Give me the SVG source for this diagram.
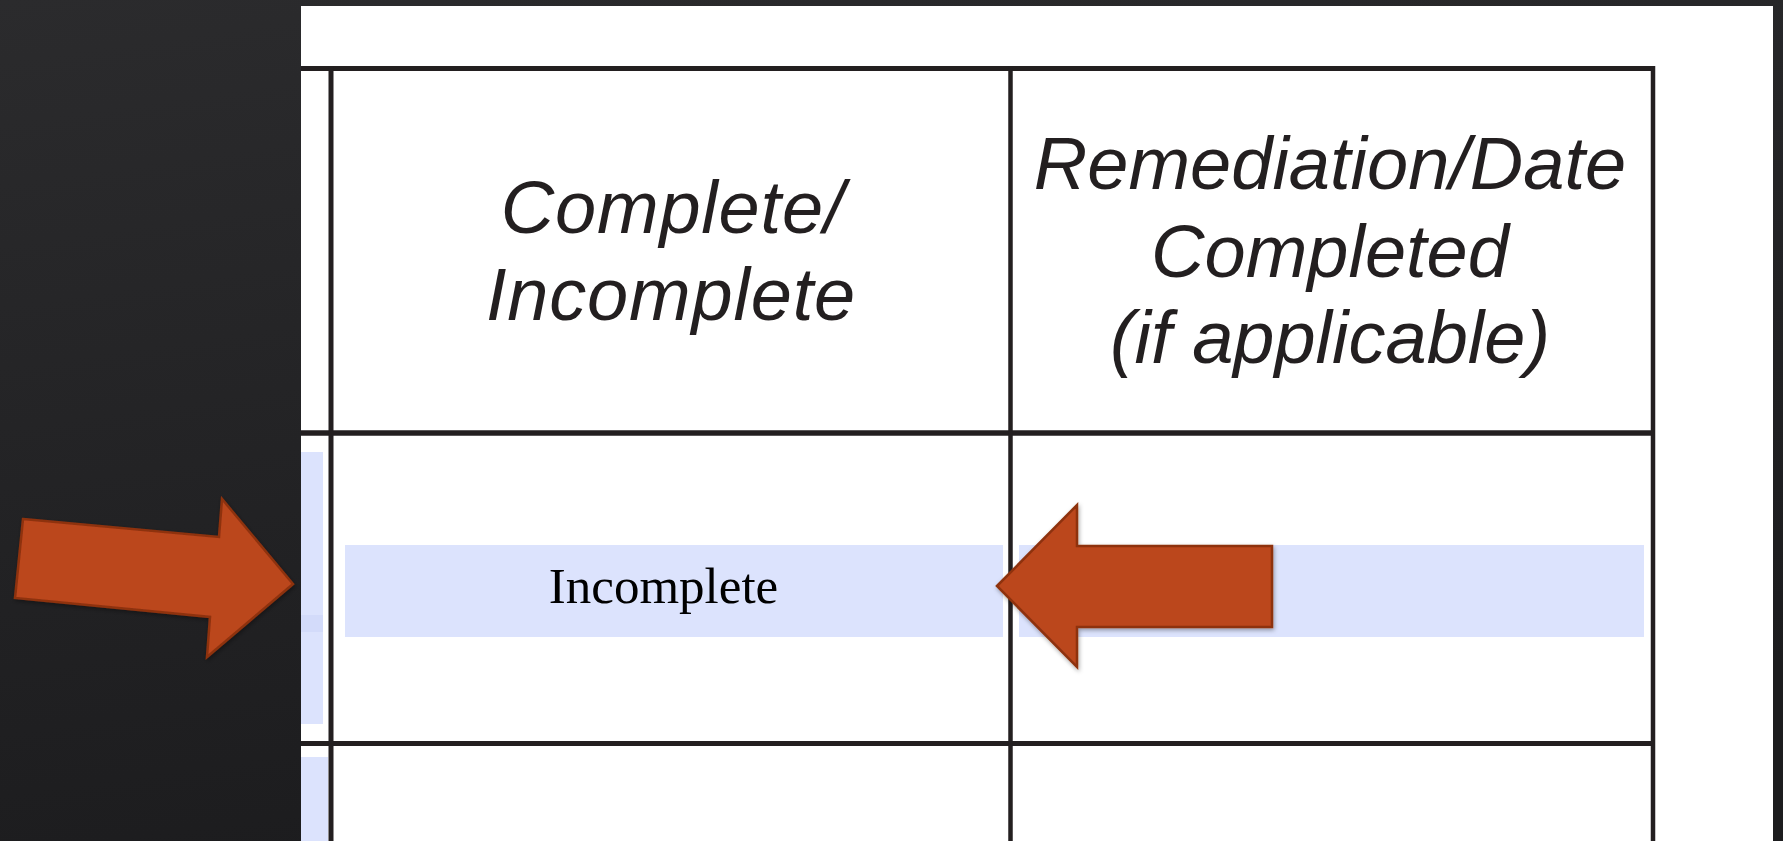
<svg xmlns="http://www.w3.org/2000/svg" width="1783" height="841" viewBox="0 0 1783 841">
  <defs>
    <linearGradient id="bg" x1="0" y1="0" x2="0.3" y2="1">
      <stop offset="0" stop-color="#2b2b2d"/>
      <stop offset="1" stop-color="#1c1c1e"/>
    </linearGradient>
    <filter id="shadow" x="-10%" y="-10%" width="130%" height="130%">
      <feDropShadow dx="1" dy="2" stdDeviation="2" flood-color="#000" flood-opacity="0.35"/>
    </filter>
  </defs>
  <style>
    .rule { stroke: #231f20; fill: none; }
    .hl { fill: #dce3fd; }
    .hdr { font-family: "Liberation Sans", Arial, sans-serif; font-style: italic; font-size: 74px; fill: #231f20; text-anchor: middle; }
    .wide { letter-spacing: 0.8px; }
    .cell { font-family: "Liberation Serif", "Times New Roman", serif; font-size: 51px; fill: #000; text-anchor: middle; }
    .arrow { fill: #bb461c; stroke: #8e3210; stroke-width: 2.5; stroke-linejoin: miter; }
  </style>

  <rect id="background" x="0" y="0" width="1783" height="841" fill="url(#bg)"/>

  <g id="panel">
    <rect x="301" y="6" width="1472" height="835" fill="#ffffff"/>
  </g>

  <g id="highlights">
    <rect class="hl" x="301" y="452" width="22" height="272"/>
    <rect x="301" y="615" width="22" height="17" fill="#d3dbfa"/>
    <rect class="hl" x="301" y="757" width="27" height="84"/>
    <rect class="hl" x="345" y="545" width="658" height="92"/>
    <rect class="hl" x="1019" y="545" width="625" height="92"/>
  </g>

  <g id="table">
    <line class="rule" x1="301" y1="68.5" x2="1655" y2="68.5" stroke-width="5"/>
    <line class="rule" x1="301" y1="433" x2="1655" y2="433" stroke-width="5.5"/>
    <line class="rule" x1="301" y1="743.5" x2="1655" y2="743.5" stroke-width="5"/>
    <line class="rule" x1="331" y1="66" x2="331" y2="841" stroke-width="5"/>
    <line class="rule" x1="1010.5" y1="66" x2="1010.5" y2="841" stroke-width="4.5"/>
    <line class="rule" x1="1653" y1="66" x2="1653" y2="841" stroke-width="4.5"/>
  </g>

  <g id="header-complete">
    <text class="hdr wide" x="673" y="233">Complete/</text>
    <text class="hdr wide" x="671" y="320">Incomplete</text>
  </g>

  <g id="header-remediation">
    <text class="hdr" x="1330" y="189">Remediation/Date</text>
    <text class="hdr" x="1330" y="277">Completed</text>
    <text class="hdr" x="1330" y="363">(if applicable)</text>
  </g>

  <g id="cell-incomplete">
    <text class="cell" x="663.5" y="603">Incomplete</text>
  </g>

  <g id="arrows">
    <polygon id="arrow-right" class="arrow" filter="url(#shadow)" points="23,519 219,537 222,499 293,584 207,657 210,617 15,598"/>
    <polygon id="arrow-left" class="arrow" filter="url(#shadow)" points="997,586 1077,505 1077,546 1272,546 1272,627 1077,627 1077,667"/>
  </g>
</svg>
